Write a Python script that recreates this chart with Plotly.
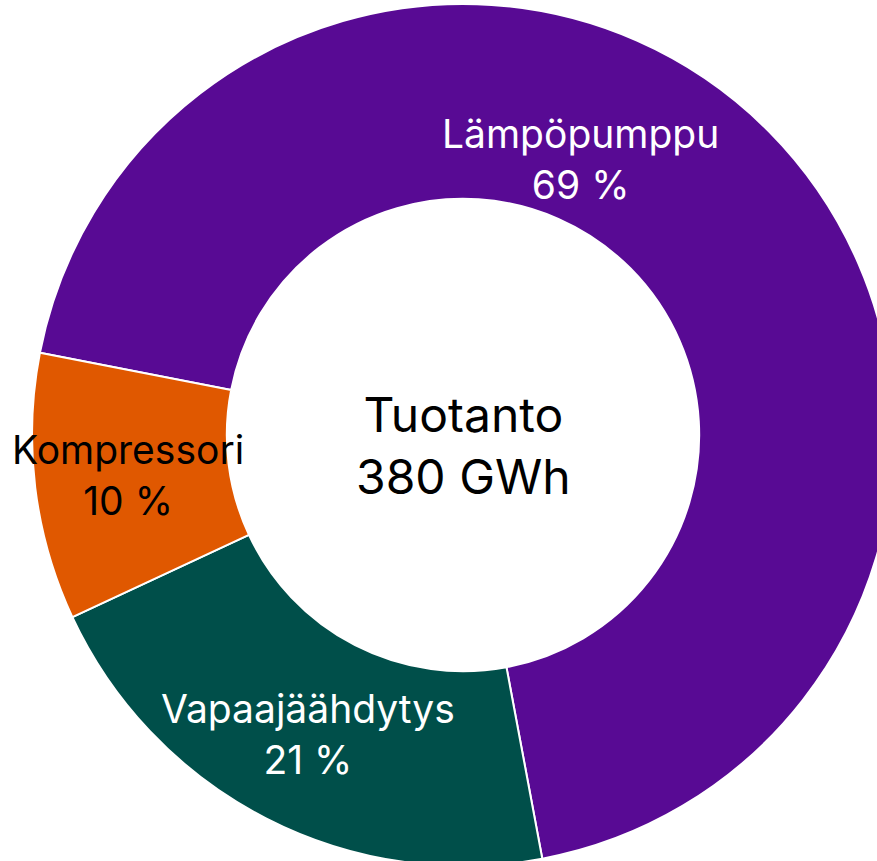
import plotly.graph_objects as go

# Data
labels = ["Lämpöpumppu", "Vapaajäähdytys", "Kompressori"]
shares = [69, 21, 10]  # percent of production
total_label = "Tuotanto"
total_value = "380 GWh"
colors = ["#580A94", "#004F4A", "#E05800"]
text_colors = ["white", "white", "black"]

W, H = 926, 868

fig = go.Figure(
    go.Pie(
        labels=labels,
        values=shares,
        hole=0.548,
        sort=False,
        direction="clockwise",
        rotation=281,
        marker=dict(colors=colors, line=dict(color="white", width=2)),
        textinfo="none",
        hoverinfo="label+percent",
        showlegend=False,
        domain=dict(x=[0, 1], y=[1 - 866 / H, 1 - 4 / H]),
    )
)

# label positions (pixel centres, converted to paper)
label_px = [(580, 159), (308, 734), (128, 475)]
annotations = []
for lab, val, tc, (px, py) in zip(labels, shares, text_colors, label_px):
    annotations.append(
        dict(
            x=px / W, y=1 - py / H, xref="paper", yref="paper",
            text=f"{lab}<br>{val} %", showarrow=False,
            font=dict(family="Inter", size=39, color=tc),
            xanchor="center", yanchor="middle", align="center",
        )
    )
annotations.append(
    dict(
        x=464 / W, y=1 - 445 / H, xref="paper", yref="paper",
        text=f"{total_label}<br>{total_value}", showarrow=False,
        font=dict(family="Inter", size=48, color="black"),
        xanchor="center", yanchor="middle", align="center",
    )
)

fig.update_layout(
    width=W, height=H,
    margin=dict(l=0, r=0, t=0, b=0),
    paper_bgcolor="white",
    plot_bgcolor="white",
    annotations=annotations,
)

fig.write_html(
    "out.html",
    config={"displayModeBar": False},
    post_script="document.body.style.margin='0';document.body.style.overflow='hidden';document.documentElement.style.overflow='hidden';",
)
